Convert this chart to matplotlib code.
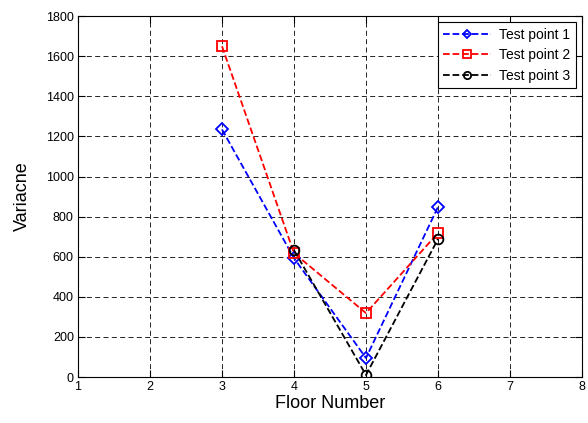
import matplotlib
matplotlib.use("Agg")
import matplotlib.pyplot as plt

plt.rcParams['font.family'] = ['Liberation Sans', 'DejaVu Sans']

floors = [3, 4, 5, 6]
tp1 = [1235, 593, 95, 848]
tp2 = [1650, 618, 319, 718]
tp3_floors = [4, 5, 6]
tp3 = [633, 10, 688]

fig = plt.figure(figsize=(5.88, 4.23), dpi=100)
ax = fig.add_axes([0.1327, 0.1087, 0.857, 0.853])

ax.plot(floors, tp1, 'b--', marker='D', mfc='none', mec='b', ms=6, mew=1.3, lw=1.3, label='Test point 1')
ax.plot(floors, tp2, 'r--', marker='s', mfc='none', mec='r', ms=7, mew=1.3, lw=1.3, label='Test point 2')
ax.plot(tp3_floors, tp3, 'k--', marker='o', mfc='none', mec='k', ms=7, mew=1.3, lw=1.3, label='Test point 3')

ax.set_xlim(1, 8)
ax.set_ylim(0, 1800)
ax.set_xticks(range(1, 9))
ax.set_yticks(range(0, 1801, 200))
ax.grid(True, color='k', linestyle=(0, (6, 4)), linewidth=0.6)
ax.tick_params(direction='in', top=True, right=True, labelsize=9, length=5, pad=3)
for s in ax.spines.values():
    s.set_linewidth(0.8)

ax.set_xlabel('Floor Number', fontsize=13, labelpad=1)
ax.set_ylabel('Variacne', fontsize=13, labelpad=11)

leg = ax.legend(loc='upper right', fontsize=10, fancybox=False, framealpha=1,
                edgecolor='k', borderaxespad=0.45, handlelength=3.4, borderpad=0.4,
                labelspacing=0.45, markerscale=0.75, handletextpad=0.6)
leg.get_frame().set_linewidth(0.8)

fig.savefig('out.png', dpi=100)
